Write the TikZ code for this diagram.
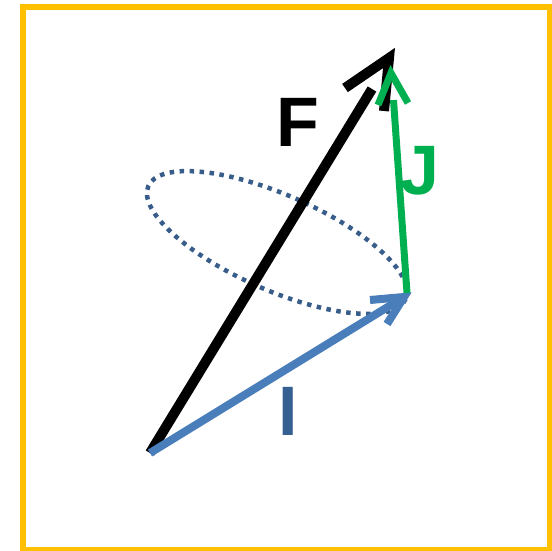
\documentclass[tikz,border=0pt]{standalone}
\usepackage{fontspec}
\setmainfont{Liberation Sans}
\definecolor{frameyellow}{RGB}{255,192,0}
\definecolor{ellblue}{RGB}{56,93,138}
\definecolor{arrblue}{RGB}{74,126,187}
\definecolor{labblue}{RGB}{55,96,146}
\definecolor{jgreen}{RGB}{0,176,80}
\begin{document}
\begin{tikzpicture}[x=1pt,y=-1pt,
  lab/.style={inner sep=0pt,font=\fontsize{70}{70}\selectfont\bfseries},
  fvec/.style={line width=10pt,black},
  jvec/.style={line width=7pt,jgreen},
  ivec/.style={line width=8pt,arrblue},
  barb/.style={line join=miter,miter limit=10}]
\useasboundingbox (0,0) rectangle (552,551);
\draw[frameyellow,line width=5.5pt] (23,7) rectangle (550,549.5);
% ellipse
\draw[ellblue,line width=4.5pt,dash pattern=on 4.5pt off 5.5pt]
  (277,242.5) circle[x radius=140.5,y radius=47.7,rotate=-23.7];
% points
\coordinate (O) at (150,453);
\coordinate (Fend) at (372,89);
\coordinate (Fb1) at (345,88);
\coordinate (Ftip) at (389,58);
\coordinate (Fb2) at (384,111);
\coordinate (Jbase) at (407,293);
\coordinate (Jend) at (393.5,100);
\coordinate (Jb1) at (378,105);
\coordinate (Jtip) at (391,73);
\coordinate (Jb2) at (408,103);
\coordinate (Itip) at (404,297);
\coordinate (Ib1) at (370,300);
\coordinate (Ib2) at (387,324);
% F
\draw[fvec] (O) -- (Fend);
\draw[fvec,barb] (Fb1) -- (Ftip) -- (Fb2);
% I
\draw[ivec] (O) -- (Itip);
\draw[ivec,barb] (Ib1) -- (Itip) -- (Ib2);
% J
\draw[jvec] (Jbase) -- (Jend);
\draw[jvec,barb] (Jb1) -- (Jtip) -- (Jb2);
% labels
\node[lab,black] (LF) at (297.5,122) {F};
\node[lab,jgreen] (LJ) at (420,171) {J};
\node[lab,labblue] (LI) at (288.5,411) {I};
\end{tikzpicture}
\end{document}
